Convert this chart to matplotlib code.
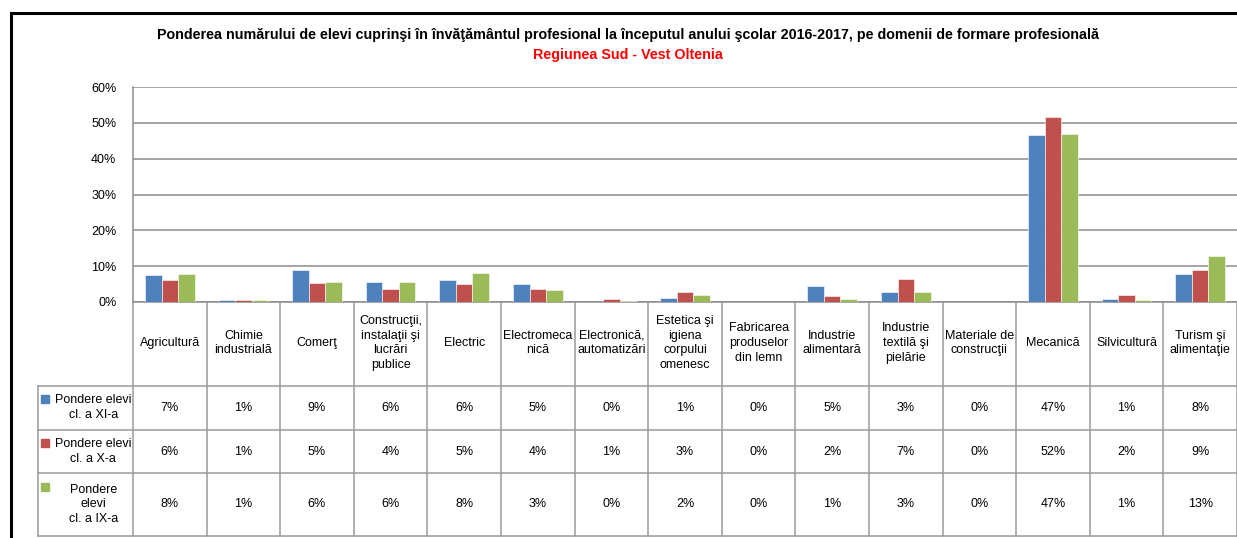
import matplotlib
matplotlib.use('Agg')
import matplotlib.pyplot as plt
import numpy as np
from matplotlib.lines import Line2D

plt.rcParams['font.family'] = ['Liberation Sans Narrow', 'Liberation Sans', 'DejaVu Sans']

# Date
domenii = ['Agricultură', 'Chimie\nindustrială', 'Comerţ', 'Construcţii,\ninstalaţii şi\nlucrări\npublice',
           'Electric', 'Electromeca\nnică', 'Electronică,\nautomatizări',
           'Estetica şi\nigiena\ncorpului\nomenesc', 'Fabricarea\nproduselor\ndin lemn',
           'Industrie\nalimentară', 'Industrie\ntextilă şi\npielărie', 'Materiale de\nconstrucţii',
           'Mecanică', 'Silvicultură', 'Turism şi\nalimentaţie']
cl_xi = [7.4, 0.5, 8.9, 5.7, 6.1, 4.9, 0.0, 1.2, 0.0, 4.5, 2.9, 0.0, 46.7, 0.7, 7.7]
cl_x = [6.1, 0.5, 5.2, 3.6, 4.9, 3.5, 0.8, 2.9, 0.0, 1.6, 6.5, 0.0, 51.5, 2.0, 8.9]
cl_ix = [7.7, 0.5, 5.7, 5.7, 8.1, 3.4, 0.4, 1.9, 0.0, 0.7, 2.9, 0.0, 47.0, 0.5, 12.9]
serii = ['Pondere elevi\ncl. a XI-a', 'Pondere elevi\ncl. a X-a', 'Pondere\nelevi\ncl. a IX-a']
culori = ['#4F81BD', '#C0504D', '#9BBB59']
y_ticks = [0, 10, 20, 30, 40, 50, 60]

titlu = ('Ponderea numărului de elevi cuprinşi în învăţământul profesional la începutul anului '
         'şcolar 2016-2017, pe domenii de formare profesională')
subtitlu = 'Regiunea Sud - Vest Oltenia'

W, H = 1237, 538
fig = plt.figure(figsize=(W / 100, H / 100), dpi=100)
fig.patch.set_facecolor('white')

# chenar negru
fig.add_artist(Line2D([11 / W, 1], [1 - 13 / H, 1 - 13 / H], color='black', lw=2.2))
fig.add_artist(Line2D([11 / W, 11 / W], [0, 1 - 13 / H], color='black', lw=2.2))

fig.text(0.508, 1 - 35 / H, titlu, ha='center', va='center', fontsize=10.3, fontweight='bold')
fig.text(0.508, 1 - 55 / H, subtitlu, ha='center', va='center', fontsize=10.3, fontweight='bold',
         color='#FF0000')

# grafic
ax = fig.add_axes([133 / W, 1 - 302 / H, (W - 133) / W, (302 - 87) / H])
n = len(domenii)
x = np.arange(n)
w = 0.224
for i, (vals, c) in enumerate(zip([cl_xi, cl_x, cl_ix], culori)):
    ax.bar(x + (i - 1) * w, vals, width=w, color=c, edgecolor='white', linewidth=0.4, zorder=3)

ax.set_xlim(-0.5, n - 0.5)
ax.set_ylim(0, 60)
ax.set_yticks(y_ticks)
ax.set_yticklabels([f'{t}%' for t in y_ticks], fontsize=9)
ax.tick_params(axis='y', length=0, pad=12)
ax.set_xticks([])
ax.grid(axis='y', color='#8C8C8C', linewidth=1.1, zorder=0)
for s in ['top', 'right']:
    ax.spines[s].set_visible(False)
for s in ['left', 'bottom']:
    ax.spines[s].set_color('#8C8C8C')
    ax.spines[s].set_linewidth(1.1)

# tabel de date
cw = (W - 133) / n
tax = fig.add_axes([38 / W, 1 - 536 / H, (W - 38) / W, (536 - 302) / H])
tax.set_xlim(-0.5 - (133 - 38) / cw, n - 0.5)
tax.set_ylim(536, 302)
tax.axis('off')
x_leg = -0.5 - (133 - 38) / cw
rows = [302, 385.7, 430, 473.3, 535.7]
lc = '#9A9A9A'
for k in range(n + 1):
    tax.plot([k - 0.5, k - 0.5], [302, 535.7], color=lc, lw=1.1, clip_on=False)
tax.plot([x_leg, x_leg], [385.7, 535.7], color=lc, lw=1.1, clip_on=False)
for r in rows[1:]:
    tax.plot([x_leg, n - 0.5], [r, r], color=lc, lw=1.1, clip_on=False)

for i, d in enumerate(domenii):
    tax.text(i, 343, d, ha='center', va='center', fontsize=9, linespacing=1.3)

for j, (vals, c, nume) in enumerate(zip([cl_xi, cl_x, cl_ix], culori, serii)):
    yc = (rows[j + 1] + rows[j + 2]) / 2
    for i, v in enumerate(vals):
        tax.text(i, yc, f'{int(v + 0.5)}%', ha='center', va='center', fontsize=9)
    linii = nume.split('\n')
    tax.text(x_leg + 0.75, yc, '\n'.join(linii), ha='center', va='center', fontsize=9,
             linespacing=1.3)
    tax.plot([x_leg + 0.1], [yc - (len(linii) - 1) * 8.5], marker='s', markersize=6,
             color=c, clip_on=False)

plt.savefig('out.png', dpi=100)
